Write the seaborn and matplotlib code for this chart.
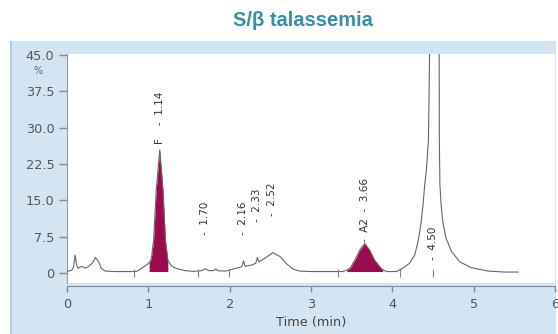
import seaborn as sns
import matplotlib
matplotlib.use("Agg")
import matplotlib.pyplot as plt
from matplotlib.patches import Rectangle
import numpy as np

# trace (time in min, signal in %)
time_min = [0.00, 0.06, 0.08, 0.10, 0.12, 0.135, 0.18, 0.225, 0.26, 0.31, 0.35, 0.39, 0.42, 0.47,
            0.60, 0.80, 0.86, 0.92, 0.98, 1.01, 1.036, 1.065, 1.097, 1.14, 1.18, 1.21, 1.24,
            1.29, 1.35, 1.45, 1.55, 1.60, 1.66, 1.70, 1.74, 1.80, 1.83, 1.86, 1.95, 2.02, 2.08,
            2.15, 2.17, 2.19, 2.27, 2.32, 2.34, 2.36, 2.43, 2.53, 2.62, 2.70, 2.78, 2.86, 3.00,
            3.39, 3.44, 3.48, 3.54, 3.60, 3.66, 3.72, 3.78, 3.85, 3.88, 3.93, 4.05, 4.13, 4.21,
            4.275, 4.316, 4.35, 4.377, 4.398, 4.42, 4.444, 4.458, 4.52, 4.576, 4.578, 4.585,
            4.60, 4.62, 4.66, 4.73, 4.83, 4.97, 5.18, 5.38, 5.55]
signal = [0.3, 0.6, 1.2, 3.7, 1.5, 1.0, 1.4, 1.0, 1.3, 2.0, 3.2, 2.3, 1.0, 0.4,
          0.3, 0.3, 0.35, 1.0, 1.7, 2.1, 2.9, 6.8, 17.1, 25.4, 17.1, 6.8, 2.6,
          1.4, 0.9, 0.5, 0.35, 0.4, 0.5, 0.9, 0.5, 0.5, 0.8, 0.45, 0.4, 0.7, 1.0,
          1.3, 2.5, 1.4, 1.65, 2.0, 3.2, 2.3, 3.0, 4.2, 3.4, 1.9, 0.8, 0.4, 0.3,
          0.3, 0.6, 1.0, 2.7, 4.75, 6.1, 4.75, 2.7, 1.2, 0.7, 0.3, 0.3, 1.0, 2.0,
          3.7, 6.5, 9.9, 14.0, 18.2, 21.5, 27.5, 45.0, 95.0, 45.0, 27.5, 18.2,
          14.0, 10.6, 7.2, 4.4, 2.3, 1.1, 0.4, 0.2, 0.2]

# shaded peaks (F and A2)
fill_start = [1.01, 3.44]
fill_end = [1.24, 3.88]
fill_floor = 0.3

# integration marks on the baseline
mark_x = [0.82, 1.61, 1.99, 3.33, 4.09, 4.50]

# peak labels
label_x = [1.14, 1.70, 2.16, 2.33, 2.52, 3.66, 4.50]
label_y = [26.6, 7.85, 7.85, 10.5, 11.8, 6.4, 2.7]
label_txt = ["F    -  1.14", "-  1.70", "-  2.16", "-  2.33", "-  2.52", "-  A2  -  3.66", "-  4.50"]

yticks = [0, 7.5, 15, 22.5, 30, 37.5, 45]
ytick_labels = ["0", "7.5", "15.0", "22.5", "30.0", "37.5", "45.0"]
xticks = [0, 1, 2, 3, 4, 5, 6]

sns.set_style("white")
plt.rcParams['font.family'] = ['DejaVu Sans']

W, H = 558, 334
fig = plt.figure(figsize=(W / 100, H / 100), dpi=100)
fig.patch.set_facecolor("white")

# blue panel behind the plot
fig.patches.append(Rectangle((10 / W, 0), (556 - 10) / W, (H - 41) / H, transform=fig.transFigure,
                             facecolor="#d3e5f3", edgecolor="none", zorder=-10))
fig.patches.append(Rectangle((10 / W, 0), 2 / W, (H - 41) / H, transform=fig.transFigure,
                             facecolor="#b3cde2", edgecolor="none", zorder=-9))

ax = fig.add_axes([67 / W, (H - 283) / H, 488 / W, (283 - 54) / H])
ax.set_facecolor("white")
ax.set_zorder(1)

t = np.array(time_min)
s = np.array(signal)
for a, b in zip(fill_start, fill_end):
    m = (t >= a) & (t <= b)
    ax.fill_between(t[m], fill_floor, s[m], color="#9a0b4f", linewidth=0, zorder=2)

sns.lineplot(x=time_min, y=signal, ax=ax, color="#666666", linewidth=0.8, estimator=None, zorder=3)
ax.vlines(mark_x, -0.9, 0.9, color="#808080", linewidth=0.8, zorder=3)

for x, y, txt in zip(label_x, label_y, label_txt):
    ax.text(x, y, txt, rotation=90, ha="center", va="bottom", fontsize=7.5, color="#333333")

ax.set_xlim(0, 6)
ax.set_ylim(-2.06, 45.2)
ax.set_yticks(yticks)
ax.set_yticklabels(ytick_labels)
ax.set_xticks(xticks)
ax.tick_params(axis="both", labelsize=9.3, labelcolor="#555555", color="#888888",
               direction="out", width=1)
ax.tick_params(axis="y", length=6, pad=3, left=True)
ax.tick_params(axis="x", length=4.5, pad=4, bottom=True)
ax.set_xlabel("Time (min)", fontsize=9.3, color="#444444", labelpad=4)
ax.set_ylabel("")

for side in ["top", "right"]:
    ax.spines[side].set_visible(False)
ax.spines["left"].set_color("#999999")
ax.spines["bottom"].set_color("#888888")
ax.spines["bottom"].set_position(("outward", 2))
ax.grid(False)

fig.text(38.5 / W, 1 - 71.5 / H, "%", fontsize=7, color="#666666", ha="center", va="center")
fig.text(303 / W, 1 - 20.5 / H, "S/β talassemia", fontsize=14.5, fontweight="bold",
         color="#3a8da4", ha="center", va="center", family=["Liberation Sans", "DejaVu Sans"])

fig.savefig("out.png", dpi=100)
